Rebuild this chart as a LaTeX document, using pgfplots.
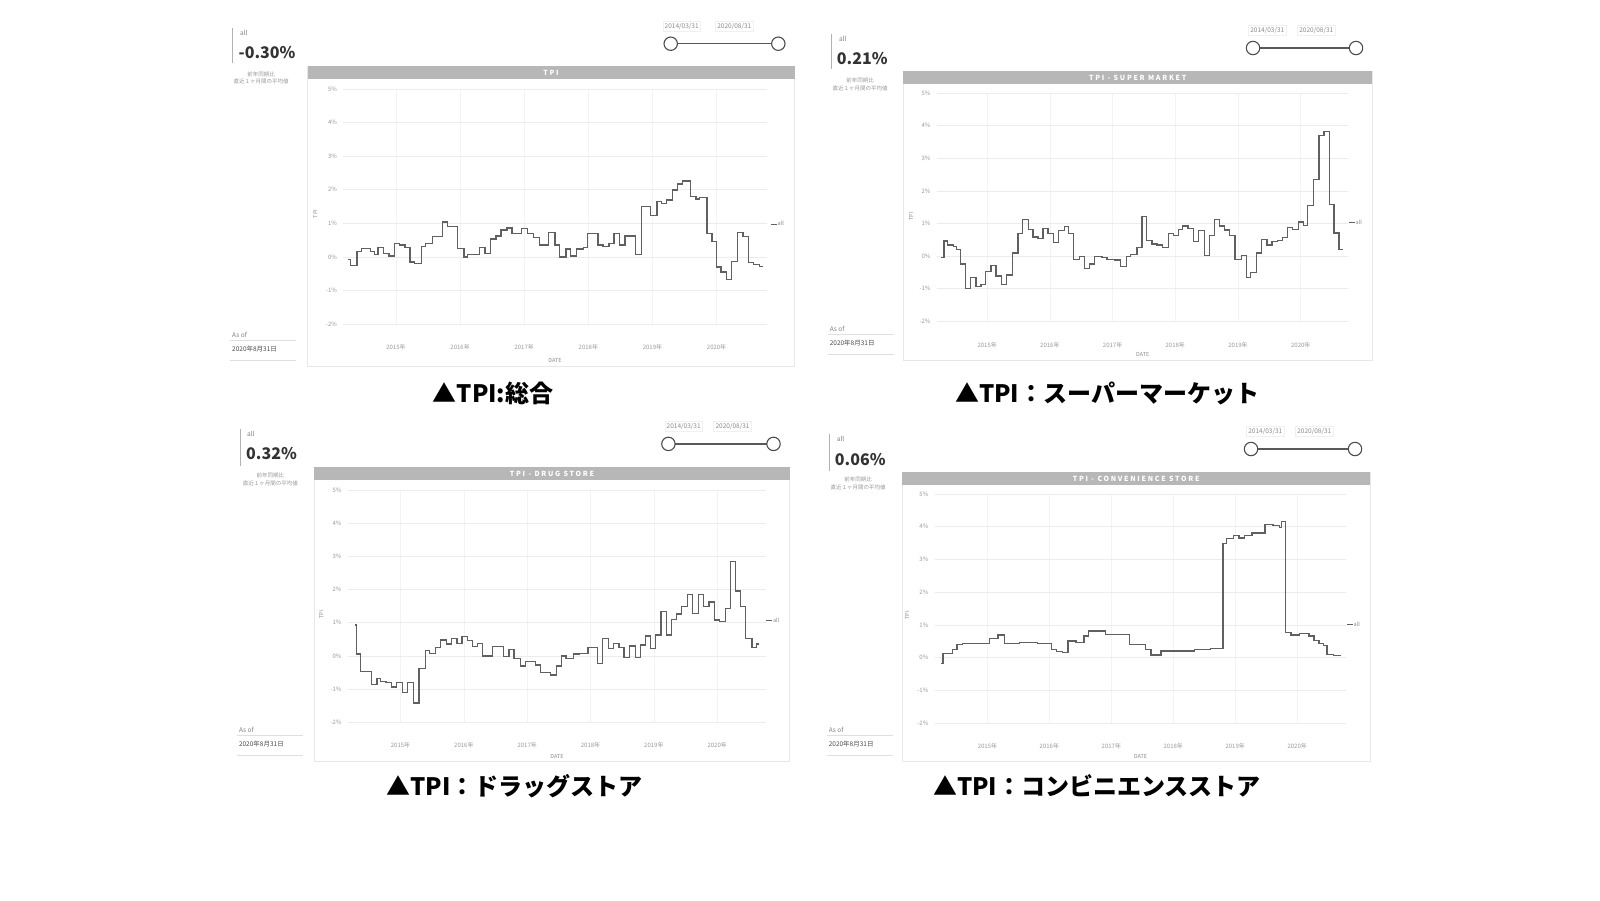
\documentclass[border=0pt]{standalone}
\usepackage{fontspec}
\setmainfont{Noto Sans CJK JP}
\usepackage{pgfplots}
\pgfplotsset{compat=1.18}
\definecolor{linec}{HTML}{606060}
\definecolor{barc}{HTML}{B7B7B7}
\definecolor{gridc}{HTML}{ECECEC}
\definecolor{vgridc}{HTML}{F3F3F3}
\definecolor{framec}{HTML}{E8E8E8}
\definecolor{tickc}{HTML}{9A9A9A}
\definecolor{kpic}{HTML}{333333}
\newcommand\fs[1]{\fontsize{#1}{#1}\selectfont}
\pgfplotsset{tpi/.style={
  scale only axis, clip=false,
  axis line style={draw=none}, major tick length=0pt,
  ymin=-2, ymax=5, ytick={-2,-1,0,1,2,3,4,5},
  yticklabels={-2\%,-1\%,0\%,1\%,2\%,3\%,4\%,5\%},
  xtick={2015,2016,2017,2018,2019,2020},
  xticklabels={2015年,2016年,2017年,2018年,2019年,2020年},
  xmajorgrids, ymajorgrids,
  y grid style={draw=gridc, line width=0.7pt},
  x grid style={draw=vgridc, line width=0.7pt},
  tick label style={font=\fs{6}, text=tickc},
  yticklabel style={xshift=-3pt},
  xticklabel style={yshift=-17pt},
}}
\tikzset{
  kv/.style={anchor=west, inner sep=0pt, font=\fs{16}\bfseries, text=kpic},
  ka/.style={anchor=west, inner sep=0pt, font=\fs{6.5}, text=gray},
  ks/.style={inner sep=0pt, font=\fs{5.5}, text=gray!80},
  sd/.style={draw=gray!12, inner sep=2pt, font=\fs{6.5}, text=gray!90},
  ttl/.style={text=white, inner sep=0pt, font=\fs{7}\bfseries\addfontfeatures{LetterSpace=25}},
  captn/.style={inner sep=0pt, font=\fs{24}\bfseries, text=black},
  sm/.style={inner sep=0pt, font=\fs{5.5}, text=gray!90},
}
\newcommand\slider[4]{% x1 x2 y
  \draw[gray!70!black, line width=1.3pt] (#1,#3) -- (#2,#3);
  \filldraw[fill=white, draw=gray!60!black, line width=1.1pt] (#1,#3) circle (6.7);
  \filldraw[fill=white, draw=gray!60!black, line width=1.1pt] (#2,#3) circle (6.7);
}
\begin{document}
\begin{tikzpicture}
\useasboundingbox (0pt,0pt) rectangle (1600pt,-900pt);
\begin{scope}[x=1pt,y=-1pt]
\fill[white] (0,0) rectangle (1600,900);
% ---------- panel 1
\draw[framec, line width=0.8pt] (307.5,66) rectangle (794.5,366.5);
\fill[barc] (307.5,66) rectangle (794.5,79);
\node[ttl] at (551,72.5) {TPI};
\draw[gray!60, line width=1.2pt] (232.5,28) -- (232.5,63);
\node[ka] at (240,33) {all};
\node[kv] at (238.5,52.5) {-0.30\%};
\node[ks] at (261,74) {前年同期比};
\node[ks] at (261,81.5) {直近１ヶ月間の平均値};
\node[ka] at (232,335) {As of};
\draw[gray!25] (230,340) -- (296,340);
\node[ka, text=black!70] at (232,349.5) {2020年8月31日};
\draw[gray!25] (230,360) -- (296,360);
\node[sd] at (681.7,26) {2014/03/31};
\node[sd] at (734.3,26) {2020/08/31};
\slider{670.7}{778.3}{43.7}{}
\node[sm, rotate=90] at (315.3,214) {TPI};
\draw[linec, line width=1pt] (771,224) -- (777,224);
\node[sm, anchor=west] at (777.5,223.5) {all};
\node[sm] at (555,360) {DATE};
\node[captn] at (493,393) {▲TPI:総合};
% ---------- panel 2
\draw[framec, line width=0.8pt] (903,71.4) rectangle (1372.4,360.2);
\fill[barc] (903,71.4) rectangle (1372.4,83.7);
\node[ttl] at (1137.7,77.5) {TPI - SUPER MARKET};
\draw[gray!60, line width=1.2pt] (831.6,33.7) -- (831.6,69.4);
\node[ka] at (838.8,38.5) {all};
\node[kv] at (836.7,58.2) {0.21\%};
\node[ks] at (860,80.5) {前年同期比};
\node[ks] at (860,88) {直近１ヶ月間の平均値};
\node[ka] at (829.6,328.7) {As of};
\draw[gray!25] (827.6,333.7) -- (893.6,333.7);
\node[ka, text=black!70] at (829.6,343.2) {2020年8月31日};
\draw[gray!25] (827.6,353.7) -- (893.6,353.7);
\node[sd] at (1267.3,30.3) {2014/03/31};
\node[sd] at (1316.3,30.3) {2020/08/31};
\slider{1253}{1356}{48}{}
\node[sm, rotate=90] at (911.2,216.3) {TPI};
\draw[linec, line width=1pt] (1349,222.5) -- (1355,222.5);
\node[sm, anchor=west] at (1355.5,222) {all};
\node[sm] at (1142.7,354) {DATE};
\node[captn] at (1107,393) {▲TPI：スーパーマーケット};
% ---------- panel 3
\draw[framec, line width=0.8pt] (314.3,467.3) rectangle (789.8,761.2);
\fill[barc] (314.3,467.3) rectangle (789.8,479.6);
\node[ttl] at (552,473.5) {TPI - DRUG STORE};
\draw[gray!60, line width=1.2pt] (240.8,428.6) -- (240.8,466.3);
\node[ka] at (247,433.7) {all};
\node[kv] at (246,454) {0.32\%};
\node[ks] at (270.4,475.5) {前年同期比};
\node[ks] at (270.4,483) {直近１ヶ月間の平均値};
\node[ka] at (238.8,729.7) {As of};
\draw[gray!25] (236.8,734.7) -- (302.8,734.7);
\node[ka, text=black!70] at (238.8,744.2) {2020年8月31日};
\draw[gray!25] (236.8,754.7) -- (302.8,754.7);
\node[sd] at (683.7,426.2) {2014/03/31};
\node[sd] at (732.6,426.2) {2020/08/31};
\slider{668.4}{773.5}{443.9}{}
\node[sm, rotate=90] at (321.4,614.3) {TPI};
\draw[linec, line width=1pt] (766.3,620.4) -- (772.3,620.4);
\node[sm, anchor=west] at (772.8,620) {all};
\node[sm] at (557,756) {DATE};
\node[captn] at (514.3,785.7) {▲TPI：ドラッグストア};
% ---------- panel 4
\draw[framec, line width=0.8pt] (902,472.4) rectangle (1370.4,761.2);
\fill[barc] (902,472.4) rectangle (1370.4,484.7);
\node[ttl] at (1136.2,478.5) {TPI - CONVENIENCE STORE};
\draw[gray!60, line width=1.2pt] (829.6,433.7) -- (829.6,471.4);
\node[ka] at (836.7,438.8) {all};
\node[kv] at (834.7,459.2) {0.06\%};
\node[ks] at (858.2,479.6) {前年同期比};
\node[ks] at (858.2,487) {直近１ヶ月間の平均値};
\node[ka] at (828.6,729.7) {As of};
\draw[gray!25] (826.6,734.7) -- (892.6,734.7);
\node[ka, text=black!70] at (828.6,744.2) {2020年8月31日};
\draw[gray!25] (826.6,754.7) -- (892.6,754.7);
\node[sd] at (1265.3,431.3) {2014/03/31};
\node[sd] at (1314.3,431.3) {2020/08/31};
\slider{1251}{1355}{449}{}
\node[sm, rotate=90] at (907.1,615.3) {TPI};
\draw[linec, line width=1pt] (1346.9,624.5) -- (1352.9,624.5);
\node[sm, anchor=west] at (1353.4,624) {all};
\node[sm] at (1140.5,756) {DATE};
\node[captn] at (1097,785.7) {▲TPI：コンビニエンスストア};
\end{scope}

% ===== axis 1: overall
\begin{axis}[tpi, at={(343.4pt,-324pt)}, anchor=south west,
  width=423.2pt, height=235pt, xmin=2014.18, xmax=2020.78]
\addplot[const plot, linec, line width=1.3pt] coordinates {
(2014.25,-0.07) (2014.29,-0.25) (2014.39,0.15) (2014.46,0.25) (2014.60,0.15) (2014.66,0.07) (2014.72,0.27) (2014.80,0.10) (2014.89,0.03) (2014.98,0.40) (2015.06,0.35) (2015.14,0.27) (2015.22,-0.15) (2015.29,-0.20) (2015.40,0.30) (2015.46,0.40) (2015.57,0.60) (2015.72,1.04) (2015.80,0.90) (2015.96,0.25) (2016.06,0.00) (2016.12,0.07) (2016.30,0.27) (2016.39,0.10) (2016.47,0.53) (2016.56,0.62) (2016.64,0.80) (2016.73,0.86) (2016.81,0.70) (2016.96,0.85) (2017.05,0.70) (2017.15,0.57) (2017.24,0.35) (2017.38,0.72) (2017.48,0.35) (2017.55,0.00) (2017.65,0.23) (2017.72,0.03) (2017.81,0.23) (2017.92,0.27) (2017.99,0.70) (2018.15,0.35) (2018.23,0.30) (2018.32,0.40) (2018.40,0.70) (2018.49,0.35) (2018.57,0.62) (2018.74,0.07) (2018.83,1.49) (2018.97,1.24) (2019.07,1.64) (2019.14,1.59) (2019.22,1.69) (2019.31,1.99) (2019.39,2.17) (2019.47,2.26) (2019.59,1.79) (2019.68,1.72) (2019.73,1.76) (2019.85,0.70) (2019.93,0.45) (2020.00,-0.30) (2020.07,-0.45) (2020.16,-0.67) (2020.23,-0.13) (2020.33,0.72) (2020.41,0.60) (2020.50,-0.17) (2020.58,-0.23) (2020.67,-0.28) (2020.73,-0.28)
};
\end{axis}

% ===== axis 2: super market
\begin{axis}[tpi, at={(937pt,-321.4pt)}, anchor=south west,
  width=411.4pt, height=228.4pt, xmin=2014.20, xmax=2020.76]
\addplot[const plot, linec, line width=1.3pt] coordinates {
(2014.27,-0.04) (2014.31,0.46) (2014.37,0.34) (2014.46,0.29) (2014.51,0.20) (2014.57,-0.24) (2014.65,-0.99) (2014.73,-0.65) (2014.82,-0.94) (2014.90,-0.86) (2014.97,-0.48) (2015.06,-0.28) (2015.14,-0.61) (2015.23,-0.86) (2015.31,-0.58) (2015.40,0.10) (2015.49,0.69) (2015.56,1.12) (2015.66,0.82) (2015.73,0.59) (2015.81,0.54) (2015.89,0.85) (2015.97,0.69) (2016.06,0.41) (2016.14,0.78) (2016.23,0.90) (2016.30,0.69) (2016.38,-0.10) (2016.47,0.00) (2016.55,-0.38) (2016.63,-0.24) (2016.71,0.00) (2016.83,-0.04) (2016.91,-0.10) (2017.03,-0.12) (2017.13,-0.31) (2017.22,-0.02) (2017.29,0.06) (2017.39,0.27) (2017.47,1.22) (2017.54,0.47) (2017.63,0.37) (2017.71,0.34) (2017.80,0.27) (2017.89,0.69) (2017.97,0.64) (2018.05,0.82) (2018.11,0.92) (2018.20,0.85) (2018.29,0.44) (2018.37,0.78) (2018.46,0.02) (2018.54,0.64) (2018.63,1.12) (2018.70,0.92) (2018.78,0.80) (2018.86,0.64) (2018.95,-0.10) (2019.05,0.03) (2019.13,-0.65) (2019.20,-0.51) (2019.29,0.10) (2019.37,0.51) (2019.46,0.34) (2019.54,0.44) (2019.63,0.49) (2019.71,0.57) (2019.79,0.88) (2019.87,0.82) (2019.96,1.05) (2020.04,0.95) (2020.11,1.56) (2020.20,2.35) (2020.29,3.70) (2020.37,3.81) (2020.46,1.59) (2020.53,0.71) (2020.61,0.20) (2020.67,0.20)
};
\end{axis}

% ===== axis 3: drug store
\begin{axis}[tpi, at={(348pt,-722.3pt)}, anchor=south west,
  width=418pt, height=232.3pt, xmin=2014.17, xmax=2020.77]
\addplot[const plot, linec, line width=1.3pt] coordinates {
(2014.28,0.93) (2014.30,0.06) (2014.37,-0.47) (2014.54,-0.87) (2014.63,-0.67) (2014.68,-0.77) (2014.77,-0.80) (2014.86,-0.94) (2014.94,-0.80) (2015.03,-1.10) (2015.11,-0.80) (2015.20,-1.42) (2015.29,-0.37) (2015.39,0.16) (2015.46,0.08) (2015.55,0.26) (2015.63,0.48) (2015.72,0.36) (2015.80,0.53) (2015.89,0.38) (2015.97,0.58) (2016.06,0.46) (2016.14,0.28) (2016.22,0.38) (2016.29,0.00) (2016.45,0.28) (2016.62,-0.02) (2016.71,0.20) (2016.79,-0.07) (2016.89,-0.30) (2016.97,-0.17) (2017.13,-0.27) (2017.21,-0.50) (2017.37,-0.57) (2017.46,-0.30) (2017.54,0.00) (2017.61,-0.07) (2017.73,0.06) (2017.82,0.08) (2017.96,0.26) (2018.11,-0.22) (2018.19,0.53) (2018.28,0.23) (2018.36,0.38) (2018.45,0.26) (2018.53,-0.04) (2018.62,0.30) (2018.71,-0.04) (2018.79,0.33) (2018.87,0.60) (2018.95,0.23) (2019.03,0.63) (2019.11,1.33) (2019.20,0.63) (2019.28,1.10) (2019.36,1.26) (2019.44,1.48) (2019.53,1.86) (2019.61,1.28) (2019.70,1.86) (2019.78,1.50) (2019.87,1.63) (2019.96,1.08) (2020.04,1.03) (2020.13,1.43) (2020.21,2.84) (2020.29,1.96) (2020.37,1.48) (2020.45,0.53) (2020.55,0.26) (2020.62,0.36) (2020.66,0.36)
};
\end{axis}

% ===== axis 4: convenience store
\begin{axis}[tpi, at={(934.8pt,-723pt)}, anchor=south west,
  width=411.3pt, height=229pt, xmin=2014.15, xmax=2020.79]
\addplot[const plot, linec, line width=1.3pt] coordinates {
(2014.25,-0.18) (2014.28,0.12) (2014.44,0.25) (2014.51,0.39) (2014.60,0.43) (2015.03,0.59) (2015.17,0.69) (2015.28,0.43) (2015.52,0.46) (2015.81,0.43) (2016.03,0.25) (2016.12,0.18) (2016.21,0.15) (2016.30,0.51) (2016.43,0.46) (2016.56,0.66) (2016.63,0.81) (2016.90,0.71) (2017.29,0.39) (2017.41,0.41) (2017.55,0.25) (2017.64,0.08) (2017.80,0.20) (2018.34,0.25) (2018.60,0.28) (2018.80,3.48) (2018.86,3.64) (2018.97,3.74) (2019.06,3.66) (2019.15,3.74) (2019.27,3.81) (2019.48,4.07) (2019.61,4.03) (2019.71,3.97) (2019.75,4.17) (2019.81,0.76) (2019.90,0.69) (2020.04,0.73) (2020.19,0.66) (2020.27,0.53) (2020.35,0.43) (2020.42,0.36) (2020.48,0.10) (2020.59,0.07) (2020.71,0.07)
};
\end{axis}
\end{tikzpicture}
\end{document}
